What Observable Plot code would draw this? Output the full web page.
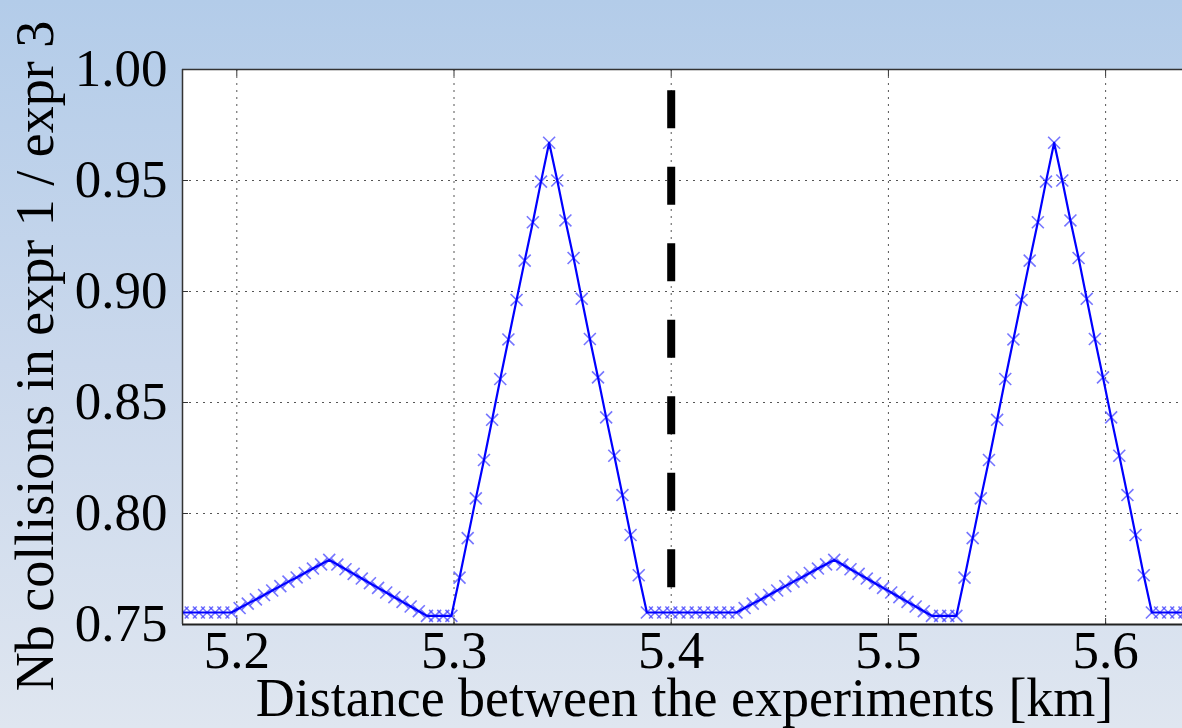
<!DOCTYPE html>
<html><head><meta charset="utf-8">
<script src="https://cdn.jsdelivr.net/npm/d3@7"></script>
<script src="https://cdn.jsdelivr.net/npm/@observablehq/plot@0.6"></script>
<style>
html,body{margin:0;padding:0;width:1182px;height:728px;overflow:hidden;background:linear-gradient(to bottom,#b3cce9 0%,#cad8ec 50%,#dfe6f0 100%);}
#chart svg{display:block;background:transparent;}
</style></head><body><div id="chart"></div>
<script>
const xLabel = "Distance between the experiments [km]";
const yLabel = "Nb collisions in expr 1 / expr 3";
const xTicks = [5.2, 5.3, 5.4, 5.5, 5.6];
const yTicks = [0.75, 0.80, 0.85, 0.90, 0.95, 1.00];
const yGrid = [0.80, 0.85, 0.90, 0.95];
const xDomain = [5.175, 5.6354];
const yDomain = [0.75, 1.0];
// sampling grid of the curve (uniform spacing in km)
const xStart = 5.17505;
const xStep = 0.00375;
// collision ratio, one value per sample
const ratio = [
  0.7554, 0.7554, 0.7554, 0.7554, 0.7554, 0.7554, 0.7554,
  0.7574, 0.7594, 0.7613, 0.7633, 0.7653, 0.7673, 0.7693, 0.7712, 0.7732, 0.7752, 0.7771, 0.7791,
  0.7770, 0.7749, 0.7728, 0.7707, 0.7686, 0.7665, 0.7644, 0.7623, 0.7602, 0.7581, 0.7560, 0.7539,
  0.7539, 0.7539, 0.7539,
  0.7711, 0.7889, 0.8068, 0.8241, 0.8422, 0.8606, 0.8784, 0.8962, 0.9139, 0.9312, 0.9495,
  0.9670,
  0.9500, 0.9320, 0.9151, 0.8967, 0.8786, 0.8613, 0.8433, 0.8260, 0.8083, 0.7903, 0.7722, 0.7554,
  0.7554, 0.7554, 0.7554, 0.7554, 0.7554, 0.7554, 0.7554, 0.7554, 0.7554, 0.7554, 0.7554,
  0.7574, 0.7594, 0.7613, 0.7633, 0.7653, 0.7673, 0.7693, 0.7712, 0.7732, 0.7752, 0.7771, 0.7791,
  0.7770, 0.7749, 0.7728, 0.7707, 0.7686, 0.7665, 0.7644, 0.7623, 0.7602, 0.7581, 0.7560, 0.7539,
  0.7539, 0.7539, 0.7539,
  0.7711, 0.7889, 0.8068, 0.8241, 0.8422, 0.8606, 0.8784, 0.8962, 0.9139, 0.9312, 0.9495,
  0.9670,
  0.9500, 0.9320, 0.9151, 0.8967, 0.8786, 0.8613, 0.8433, 0.8260, 0.8083, 0.7903, 0.7722, 0.7554,
  0.7554, 0.7554, 0.7554, 0.7554
];
const refX = 5.4;
const refY = [0.9906, 0.7664];

const data = ratio.map((v, i) => ({x: xStart + i * xStep, y: v}));
const vline = refY.map(v => ({x: refX, y: v}));
const font = "'Liberation Serif', 'DejaVu Serif', 'Times New Roman', serif";

const chart = Plot.plot({
  width: 1182, height: 728,
  marginLeft: 182, marginRight: 0, marginTop: 69, marginBottom: 104,
  style: {background: "transparent", fontFamily: font, overflow: "visible"},
  x: {domain: xDomain, axis: null},
  y: {domain: yDomain, axis: null},
  marks: [
    Plot.frame({fill: "white", stroke: null}),
    Plot.ruleX(xTicks, {x: d => d, stroke: "#555", strokeWidth: 1, strokeDasharray: "2,5"}),
    Plot.ruleY(yGrid, {y: d => d, stroke: "#555", strokeWidth: 1, strokeDasharray: "2,5"}),
    Plot.line(vline, {x: "x", y: "y", stroke: "black", strokeWidth: 8, strokeDasharray: "38,38.5", strokeLinecap: "butt"}),
    Plot.dot(data, {x: "x", y: "y", symbol: "times", r: 5.5, stroke: "#3a3aff", strokeOpacity: 0.7, strokeWidth: 1.6, clip: true}),
    Plot.line(data, {x: "x", y: "y", stroke: "#0000ff", strokeWidth: 2.2, clip: true}),
    Plot.axisX(xTicks, {anchor: "bottom", label: null, tickSize: 6, dy: -6, tickFormat: () => "", stroke: "#333"}),
    Plot.axisX(xTicks, {anchor: "top", label: null, tickSize: 6, dy: 6, tickFormat: () => "", stroke: "#333"}),
    Plot.axisY(yTicks, {anchor: "left", label: null, tickSize: 6, dx: 6, tickFormat: () => "", stroke: "#333"}),
    Plot.ruleY([yDomain[0]], {y: d => d, stroke: "#222", strokeWidth: 2}),
    Plot.ruleY([yDomain[1]], {y: d => d, stroke: "#333", strokeWidth: 1.5}),
    Plot.ruleX([xDomain[0]], {x: d => d, stroke: "#333", strokeWidth: 1.5}),
    Plot.text(xTicks, {x: d => d, frameAnchor: "bottom", lineAnchor: "bottom", dy: 43, text: d => d.toFixed(1), fontSize: 53, fill: "black", fontFamily: font}),
    Plot.text(yTicks, {y: d => d, frameAnchor: "left", textAnchor: "end", lineAnchor: "middle", dx: -15, text: d => d.toFixed(2), fontSize: 53, fill: "black", fontFamily: font}),
    Plot.text([xLabel], {frameAnchor: "bottom", lineAnchor: "bottom", dy: 91, dx: 2, text: d => d, fontSize: 54, fill: "black", fontFamily: font}),
    Plot.text([yLabel], {frameAnchor: "left", rotate: -90, textAnchor: "middle", lineAnchor: "bottom", dx: -130, dy: 9, text: d => d, fontSize: 54, fill: "black", fontFamily: font})
  ]
});
document.getElementById("chart").append(chart);
</script>
</body></html>
